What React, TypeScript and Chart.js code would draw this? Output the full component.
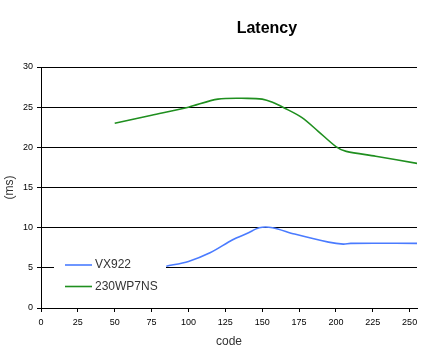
import React, { useEffect, useRef } from "react";
import { Chart, registerables } from "chart.js";

Chart.register(...registerables);

const chartTitle = "Latency";
const xAxisTitle = "code";
const yAxisTitle = "(ms)";

const vxLabel = "VX922";
const vxCodes = [85, 100, 115, 130, 140, 148, 157, 172, 195, 205, 210, 255];
const vxLatency = [5.2, 5.8, 6.9, 8.5, 9.3, 10, 10, 9.2, 8.2, 7.95, 8.05, 8.05];

const wpLabel = "230WP7NS";
const wpCodes = [50, 75, 100, 120, 140, 150, 157, 165, 177, 188, 200, 207, 227, 255];
const wpLatency = [23, 24, 25, 26, 26.1, 26, 25.6, 24.9, 23.7, 22, 20.1, 19.5, 18.9, 18];

const xTicks = [0, 25, 50, 75, 100, 125, 150, 175, 200, 225, 250];
const yTicks = [0, 5, 10, 15, 20, 25, 30];

const FONT = "'Liberation Sans', Arial, sans-serif";
const NARROW = "'Liberation Sans Narrow', 'Liberation Sans', Arial, sans-serif";

const titlePlugin = {
  id: "customTitle",
  afterDraw(chart: any) {
    const ctx = chart.ctx;
    ctx.save();
    ctx.font = `bold 16px ${FONT}`;
    ctx.fillStyle = "#000";
    ctx.textAlign = "center";
    ctx.textBaseline = "alphabetic";
    ctx.fillText(chartTitle, chart.width * 0.628, 33);
    ctx.restore();
  },
};

const legendPlugin = {
  id: "insideLegend",
  afterDatasetsDraw(chart: any) {
    const ctx = chart.ctx;
    const a = chart.chartArea;
    const bx = a.left + 13;
    const by = a.bottom - 56;
    ctx.save();
    ctx.fillStyle = "#fff";
    ctx.fillRect(bx, by, 112, 48);
    ctx.font = `12px ${FONT}`;
    ctx.textBaseline = "middle";
    ctx.textAlign = "left";
    chart.data.datasets.forEach((ds: any, i: number) => {
      const y = by + 13 + i * 21.5;
      ctx.strokeStyle = ds.borderColor;
      ctx.lineWidth = ds.borderWidth;
      ctx.beginPath();
      ctx.moveTo(bx + 11, y);
      ctx.lineTo(bx + 38, y);
      ctx.stroke();
      ctx.fillStyle = "#333";
      ctx.fillText(ds.label, bx + 41, y);
    });
    ctx.restore();
  },
};

export default function App() {
  const ref = useRef<HTMLCanvasElement>(null);

  useEffect(() => {
    document.body.style.margin = "0";
    const canvas = ref.current!;
    const chart = new Chart(canvas, {
      type: "line",
      data: {
        datasets: [
          {
            label: vxLabel,
            data: vxCodes.map((x, i) => ({ x, y: vxLatency[i] })),
            borderColor: "#4a7bff",
            borderWidth: 1.6,
            pointRadius: 0,
            tension: 0.3,
            fill: false,
          },
          {
            label: wpLabel,
            data: wpCodes.map((x, i) => ({ x, y: wpLatency[i] })),
            borderColor: "#1f8f1f",
            borderWidth: 1.6,
            pointRadius: 0,
            tension: 0.3,
            fill: false,
          },
        ],
      },
      options: {
        animation: false,
        responsive: false,
        layout: { padding: { top: 67, right: 8, left: 0, bottom: 0 } },
        plugins: {
          legend: { display: false },
          title: { display: false },
          tooltip: { enabled: false },
        },
        scales: {
          x: {
            type: "linear",
            min: 0,
            max: 255,
            afterBuildTicks: (s: any) => {
              s.ticks = xTicks.map((v) => ({ value: v }));
            },
            afterFit: (s: any) => {
              s.height = 46;
            },
            ticks: {
              color: "#000",
              font: { family: NARROW, size: 9 },
              padding: 5,
              maxRotation: 0,
              autoSkip: false,
            },
            grid: {
              display: true,
              drawOnChartArea: false,
              drawTicks: true,
              tickLength: 4,
              color: "#000",
            },
            border: { display: true, color: "#000" },
            title: {
              display: true,
              text: xAxisTitle,
              color: "#333",
              font: { family: FONT, size: 12 },
              padding: { top: 0, bottom: 5 },
            },
          },
          y: {
            type: "linear",
            min: 0,
            max: 30,
            afterBuildTicks: (s: any) => {
              s.ticks = yTicks.map((v) => ({ value: v }));
            },
            afterFit: (s: any) => {
              s.width = 41;
            },
            ticks: {
              color: "#000",
              font: { family: NARROW, size: 9 },
              padding: 4,
              autoSkip: false,
            },
            grid: {
              color: "#000",
              lineWidth: 1,
              drawTicks: true,
              tickLength: 4,
            },
            border: { display: true, color: "#000" },
            title: {
              display: true,
              text: yAxisTitle,
              color: "#333",
              font: { family: FONT, size: 12 },
              padding: { top: 2, bottom: 0 },
            },
          },
        },
      },
      plugins: [titlePlugin, legendPlugin],
    } as any);
    return () => chart.destroy();
  }, []);

  return (
    <div style={{ position: "absolute", left: 0, top: 0, width: 425, height: 354, background: "#fff" }}>
      <canvas ref={ref} width={425} height={354} />
    </div>
  );
}
